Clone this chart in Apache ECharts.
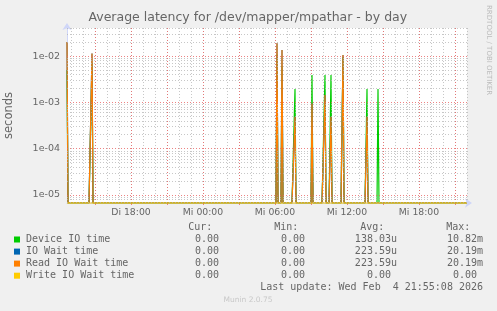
<!DOCTYPE html>
<html><head><meta charset="utf-8">
<script src="https://cdn.jsdelivr.net/npm/echarts@6/dist/echarts.min.js"></script>
<style>html,body{margin:0;padding:0;background:#F0F0F0;}#c{width:497px;height:311px;}</style>
</head><body><div id="c"></div>
<script>
// ---- time axis (5-minute steps, Di 12:40 .. Mi 22:00) ----
const startDay = 'Di', nextDay = 'Mi';
const startMinute = 12 * 60 + 40;
const stepMinutes = 5;
const pointCount = 401;
const categories = [];
for (let i = 0; i < pointCount; i++) {
  const m = startMinute + i * stepMinutes;
  const d = m >= 1440 ? nextDay : startDay;
  const mm = m % 1440;
  categories.push(d + ' ' + String(Math.floor(mm / 60)).padStart(2, '0') + ':' + String(mm % 60).padStart(2, '0'));
}
const xTickLabels = ['Di 18:00', 'Mi 00:00', 'Mi 06:00', 'Mi 12:00', 'Mi 18:00'];

// ---- series values (non-zero samples; every other sample is 0) ----
const deviceIoTimes  = ['Di 12:40','Di 14:45','Mi 06:10','Mi 06:35','Mi 07:40','Mi 09:05','Mi 10:10','Mi 10:40','Mi 11:40','Mi 13:40','Mi 14:35'];
const deviceIoValues = [0.005, 0.007, 0.0108, 0.006, 0.00195, 0.0039, 0.0039, 0.0039, 0.0095, 0.00195, 0.00195];
const ioWaitTimes    = ['Di 12:40','Di 14:45','Mi 06:10','Mi 06:35','Mi 07:40','Mi 09:05','Mi 10:10','Mi 10:40','Mi 11:40','Mi 13:40'];
const ioWaitValues   = [0.0202, 0.0114, 0.0188, 0.0135, 0.00049, 0.00095, 0.00144, 0.00049, 0.0105, 0.00049];
const readIoTimes    = ['Di 12:40','Di 14:45','Mi 06:10','Mi 06:35','Mi 07:40','Mi 09:05','Mi 10:10','Mi 10:40','Mi 11:40','Mi 13:40'];
const readIoValues   = [0.0202, 0.0114, 0.0188, 0.0135, 0.00049, 0.00095, 0.00144, 0.00049, 0.0105, 0.00049];
const writeIoTimes   = [];
const writeIoValues  = [];

// ---- y axis ----
const Y_MIN = 6.72e-6, Y_MAX = 0.0403;
const yTickValues = [1e-5, 1e-4, 1e-3, 1e-2];
const yTickLabels = ['1e-05', '1e-04', '1e-03', '1e-02'];
const yMinorGrid = [7e-6, 8e-6, 9e-6,
  2e-5, 3e-5, 4e-5, 5e-5, 6e-5, 7e-5, 8e-5, 9e-5,
  2e-4, 3e-4, 4e-4, 5e-4, 6e-4, 7e-4, 8e-4, 9e-4,
  2e-3, 3e-3, 4e-3, 5e-3, 6e-3, 7e-3, 8e-3, 9e-3,
  2e-2, 3e-2, 4e-2];

// ---- legend table ----
const legendNames  = ['Device IO time', 'IO Wait time', 'Read IO Wait time', 'Write IO Wait time'];
const legendColors = ['#00CC00', '#0066B3', '#FF8000', '#FFCC00'];
const curValues = ['0.00', '0.00', '0.00', '0.00'];
const minValues = ['0.00', '0.00', '0.00', '0.00'];
const avgValues = ['138.03u', '223.59u', '223.59u', '0.00'];
const maxValues = ['10.82m', '20.19m', '20.19m', '0.00'];
const lastUpdate = 'Last update: Wed Feb  4 21:55:08 2026';

function build(times, values) {
  return categories.map(c => {
    const k = times.indexOf(c);
    const v = k >= 0 ? values[k] : 0;
    return v > 0 ? v : Y_MIN; // zero drawn at the floor, as rrdtool does on log scale
  });
}
const isHour = v => v.endsWith(':00');
const hourOf = v => parseInt(v.slice(3, 5), 10);

const FONT = '"DejaVu Sans", sans-serif';
const MONO = '"DejaVu Sans Mono", monospace';
const TXT = '#666666';
const AXIS = '#CFD6F8';
const MINOR = 'rgba(180,180,180,0.75)';
const MAJOR = 'rgba(232,100,100,0.8)';

const chart = echarts.init(document.getElementById('c'), null, { renderer: 'canvas' });

const graphics = [];
function txt(x, y, text, opt) {
  const s = Object.assign({ text: text, x: 0, y: 0, fill: TXT, font: '10px ' + MONO,
    align: 'left', verticalAlign: 'middle', textAlign: 'left', textVerticalAlign: 'middle' }, opt || {});
  if (opt && opt.align) s.textAlign = opt.align;
  if (opt && opt.verticalAlign) s.textVerticalAlign = opt.verticalAlign;
  const g = { type: 'text', x: x, y: y, silent: true, style: s };
  if (opt && opt.rotation !== undefined) { g.rotation = opt.rotation; delete s.rotation; }
  graphics.push(g);
}
// title
txt(247.8, 18, 'Average latency for /dev/mapper/mpathar - by day', { font: '12.5px ' + FONT, align: 'center' });
// watermark
txt(489, 5, 'RRDTOOL / TOBI OETIKER', { font: '7px ' + FONT, fill: '#BBBBBB', rotation: -Math.PI / 2 });
// legend header
const colRight = [225, 311, 397, 483];
const headers = ['Cur:', 'Min:', 'Avg:', 'Max:'];
headers.forEach((h, j) => txt(colRight[j] - 12.7, 227.7, h, { align: 'right' }));
const rowY = [239.5, 251.6, 263.6, 275.7];
legendNames.forEach((n, i) => {
  graphics.push({ type: 'rect', silent: true, shape: { x: 14, y: rowY[i] - 3, width: 6, height: 6 }, style: { fill: legendColors[i] } });
  txt(26, rowY[i], n);
  [curValues, minValues, avgValues, maxValues].forEach((arr, j) => {
    const s = arr[i];
    const hasUnit = /[a-zA-Z]$/.test(s);
    txt(colRight[j] - (hasUnit ? 0 : 6.02), rowY[i], s, { align: 'right' });
  });
});
txt(483, 287.7, lastUpdate, { align: 'right' });
txt(248, 300, 'Munin 2.0.75', { font: '7.5px ' + FONT, fill: '#C8C8C8', align: 'center' });

const gridMarks = yMinorGrid.map(v => ({ yAxis: v, lineStyle: { color: MINOR, type: [1, 2], width: 1 } }))
  .concat(yTickValues.map(v => ({ yAxis: v, lineStyle: { color: MAJOR, type: [1, 2], width: 1 } })));

const option = {
  animation: false,
  backgroundColor: '#F0F0F0',
  grid: { left: 67, top: 28, width: 400, height: 175, backgroundColor: '#FFFFFF', show: true, borderWidth: 0,
          containLabel: false, outerBoundsMode: 'none' },
  xAxis: [{
    type: 'category', data: categories, boundaryGap: false,
    axisLine: { show: true, lineStyle: { color: AXIS, width: 1 }, symbol: ['none', 'arrow'], symbolSize: [7, 7], symbolOffset: [0, 5] },
    axisTick: { show: false },
    axisLabel: { interval: (i, v) => xTickLabels.indexOf(v) >= 0, color: TXT, fontFamily: 'DejaVu Sans', fontSize: 9.3, margin: 5 },
    splitLine: { show: true, interval: (i, v) => isHour(v), lineStyle: { color: MINOR, type: [1, 2], width: 1 } }
  }, {
    type: 'category', data: categories, boundaryGap: false, position: 'bottom',
    axisLine: { show: false }, axisLabel: { show: false },
    axisTick: { show: true, interval: (i, v) => isHour(v) && hourOf(v) % 3 === 0, length: 2, lineStyle: { color: MAJOR } },
    splitLine: { show: true, interval: (i, v) => isHour(v) && hourOf(v) % 3 === 0, lineStyle: { color: MAJOR, type: [1, 2], width: 1 } }
  }],
  yAxis: {
    type: 'log', logBase: 10, min: Y_MIN, max: Y_MAX,
    name: 'seconds', nameLocation: 'middle', nameRotate: 90, nameGap: 52,
    nameTextStyle: { color: TXT, fontFamily: 'DejaVu Sans', fontSize: 11.5 },
    axisLine: { show: true, lineStyle: { color: AXIS, width: 1 }, symbol: ['none', 'arrow'], symbolSize: [7, 7], symbolOffset: [0, 5] },
    axisTick: { show: false },
    splitLine: { show: false },
    axisLabel: {
      color: TXT, fontFamily: 'DejaVu Sans', fontSize: 9.5, margin: 7, showMinLabel: true, showMaxLabel: true,
      formatter: v => { for (let k = 0; k < yTickValues.length; k++) { if (Math.abs(v / yTickValues[k] - 1) < 1e-6) return yTickLabels[k]; } return ''; }
    }
  },
  series: [
    { type: 'line', name: 'grid', data: [], z: 1, silent: true,
      markLine: { silent: true, precision: 12, symbol: ['none', 'none'], label: { show: false }, animation: false, data: gridMarks } },
    { type: 'line', name: legendNames[0], data: build(deviceIoTimes, deviceIoValues), z: 3, showSymbol: false, symbol: 'none', lineStyle: { color: legendColors[0], width: 1.2 }, itemStyle: { color: legendColors[0] } },
    { type: 'line', name: legendNames[1], data: build(ioWaitTimes, ioWaitValues), z: 3, showSymbol: false, symbol: 'none', lineStyle: { color: legendColors[1], width: 1.2 }, itemStyle: { color: legendColors[1] } },
    { type: 'line', name: legendNames[2], data: build(readIoTimes, readIoValues), z: 3, showSymbol: false, symbol: 'none', lineStyle: { color: legendColors[2], width: 1.2 }, itemStyle: { color: legendColors[2] } },
    { type: 'line', name: legendNames[3], data: build(writeIoTimes, writeIoValues), z: 3, clip: false, showSymbol: false, symbol: 'none', lineStyle: { color: legendColors[3], width: 1 }, itemStyle: { color: legendColors[3] } }
  ],
  graphic: graphics
};
chart.setOption(option);
</script></body></html>
